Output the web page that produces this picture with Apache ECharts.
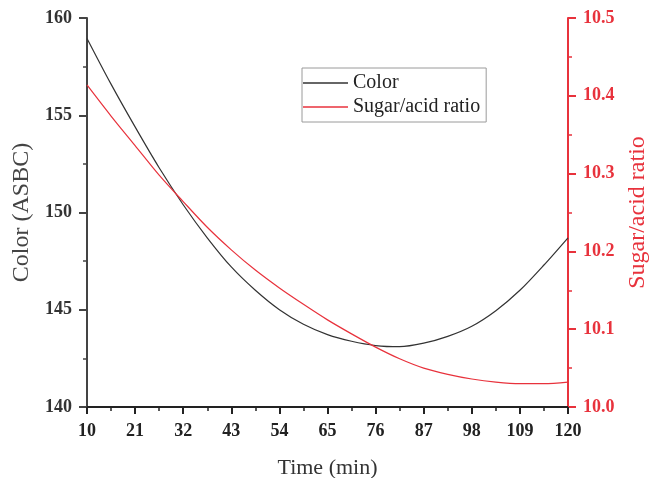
<!DOCTYPE html>
<html>
<head>
<meta charset="utf-8">
<script src="https://cdn.jsdelivr.net/npm/echarts@6/dist/echarts.min.js"></script>
<style>html,body{margin:0;padding:0;background:#fff}#c{width:652px;height:478px}</style>
</head>
<body>
<div id="c"></div>
<script>
var times = [10, 15.5, 21, 26.5, 32, 37.5, 43, 48.5, 54, 59.5, 65, 70.5, 76, 81.5, 87, 92.5, 98, 103.5, 109, 114.5, 120];
var colorValues = [158.95, 156.6, 154.4, 152.3, 150.4, 148.7, 147.2, 146.0, 145.0, 144.25, 143.72, 143.38, 143.16, 143.1, 143.28, 143.63, 144.15, 144.95, 146.0, 147.3, 148.7];
var ratioValues = [10.414, 10.374, 10.336, 10.298, 10.264, 10.231, 10.202, 10.176, 10.153, 10.132, 10.112, 10.094, 10.077, 10.062, 10.050, 10.042, 10.036, 10.032, 10.030, 10.030, 10.032];
var seriesNames = ['Color', 'Sugar/acid ratio'];
var T0 = times[0];

var serif = '"Liberation Serif","Times New Roman",serif';
var RED = '#e8323c';
var chart = echarts.init(document.getElementById('c'));
chart.setOption({
  animation: false,
  grid: {left: 87, right: 84, top: 18, bottom: 71, containLabel: false, outerBoundsMode: 'none'},
  legend: {
    left: 302, top: 68,
    orient: 'vertical',
    borderColor: '#9a9a9a', borderWidth: 1, borderRadius: 0,
    padding: [5, 6, 5, 1],
    itemGap: 4,
    icon: 'rect',
    itemWidth: 45, itemHeight: 1.5,
    textStyle: {fontFamily: serif, fontSize: 20, lineHeight: 20, color: '#222'},
    data: seriesNames
  },
  xAxis: {
    type: 'value', min: 0, max: times[times.length - 1] - T0, interval: 11,
    name: 'Time (min)', nameLocation: 'middle', nameGap: 50,
    nameTextStyle: {fontFamily: serif, fontSize: 22, color: '#333'},
    axisLine: {lineStyle: {color: '#222', width: 2}},
    axisTick: {inside: false, length: 7, lineStyle: {color: '#222', width: 2}},
    minorTick: {show: true, splitNumber: 2, length: 4, lineStyle: {color: '#222', width: 1.5}},
    axisLabel: {formatter: function (v) { return String(v + T0); }, fontFamily: serif, fontWeight: 'bold', fontSize: 18, color: '#222', margin: 15},
    splitLine: {show: false}
  },
  yAxis: [{
    type: 'value', min: 140, max: 160, interval: 5, position: 'left',
    name: 'Color (ASBC)', nameLocation: 'middle', nameGap: 50,
    nameTextStyle: {fontFamily: serif, fontSize: 24, color: '#444'},
    axisLine: {show: true, lineStyle: {color: '#444', width: 2}},
    axisTick: {show: true, inside: false, length: 8, lineStyle: {color: '#444', width: 2}},
    minorTick: {show: true, splitNumber: 2, length: 4, lineStyle: {color: '#444', width: 1.5}},
    axisLabel: {fontFamily: serif, fontWeight: 'bold', fontSize: 18, color: '#333', margin: 15},
    splitLine: {show: false}
  }, {
    type: 'value', min: 10, max: 10.5, interval: 0.1, position: 'right',
    name: 'Sugar/acid ratio', nameLocation: 'middle', nameGap: 57, nameRotate: 90,
    nameTextStyle: {fontFamily: serif, fontSize: 24, color: RED},
    axisLine: {show: true, lineStyle: {color: RED, width: 2}},
    axisTick: {show: true, inside: false, length: 8, lineStyle: {color: RED, width: 2}},
    minorTick: {show: true, splitNumber: 2, length: 4, lineStyle: {color: RED, width: 1.5}},
    axisLabel: {formatter: function (v) { return v.toFixed(1); }, fontFamily: serif, fontWeight: 'bold', fontSize: 18, color: RED, margin: 15},
    splitLine: {show: false}
  }],
  series: [{
    name: seriesNames[0], type: 'line', yAxisIndex: 0, smooth: 0.3, symbol: 'none',
    lineStyle: {color: '#333', width: 1.2}, itemStyle: {color: '#333'},
    data: times.map(function (t, i) { return [t - T0, colorValues[i]]; })
  }, {
    name: seriesNames[1], type: 'line', yAxisIndex: 1, smooth: 0.3, symbol: 'none',
    lineStyle: {color: RED, width: 1.2}, itemStyle: {color: RED},
    data: times.map(function (t, i) { return [t - T0, ratioValues[i]]; })
  }]
});
</script>
</body>
</html>
